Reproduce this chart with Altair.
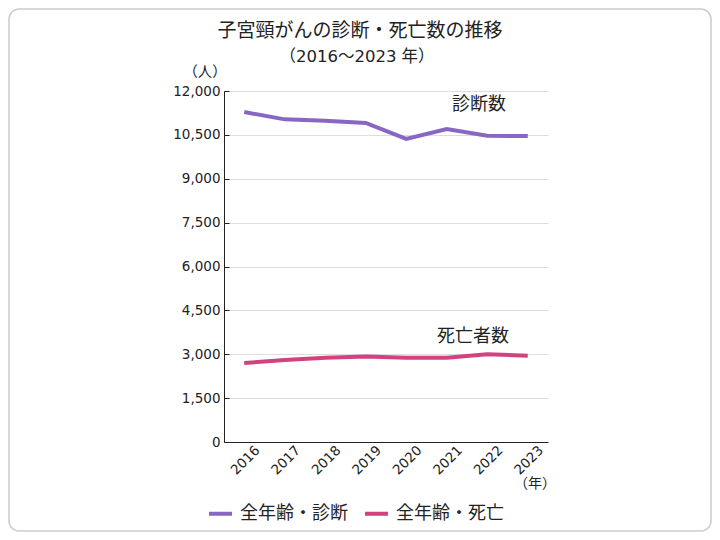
import pandas as pd
import altair as alt

# values
years = ["2016", "2017", "2018", "2019", "2020", "2021", "2022", "2023"]
diagnosis = [11280, 11030, 10980, 10910, 10360, 10700, 10470, 10460]
deaths = [2700, 2800, 2880, 2920, 2880, 2880, 3000, 2950]
series_names = ["全年齢・診断", "全年齢・死亡"]
series_colors = ["#8866C4", "#D1427F"]
y_ticks = [0, 1500, 3000, 4500, 6000, 7500, 9000, 10500, 12000]

FONT = "DejaVu Sans, Noto Sans CJK JP"
JP = "Noto Sans CJK JP"
W, H = 324, 351
PAD = {"left": 216, "top": 83, "right": 704 - 216 - W, "bottom": 524 - 83 - H}

records = []
for name, vals in zip(series_names, [diagnosis, deaths]):
    for yr, v in zip(years, vals):
        records.append({"Year": yr, "Count": v, "Series": name})
df = pd.DataFrame.from_records(records)

x_enc = alt.X(
    "Year:O",
    sort=years,
    scale=alt.Scale(type="point", padding=0.5),
    axis=alt.Axis(
        title=None, labelAngle=315, ticks=False, domainColor="#222",
        labelFont=FONT, labelFontSize=13.5, labelColor="#222", labelPadding=1,
        labelOffset=8, grid=False,
    ),
)
y_scale = alt.Scale(domain=[0, 12000], nice=False)

lines = (
    alt.Chart(df)
    .mark_line(strokeWidth=4)
    .encode(
        x=x_enc,
        y=alt.Y(
            "Count:Q",
            scale=y_scale,
            axis=alt.Axis(
                title=None, values=y_ticks, ticks=False,
                labelExpr="format(datum.value, ',d')",
                domainColor="#222", gridColor="#dddddd", labelFont=FONT,
                labelFontSize=13.5, labelColor="#222", labelPadding=4,
            ),
        ),
        color=alt.Color(
            "Series:N",
            sort=series_names,
            scale=alt.Scale(domain=series_names, range=series_colors),
            legend=alt.Legend(
                title=None, orient="none", direction="horizontal",
                legendX=-17, legendY=409, padding=0,
                symbolType="stroke", symbolSize=529, symbolStrokeWidth=4,
                labelFont=JP, labelFontSize=18, labelColor="#222",
                labelOffset=6, columnPadding=9,
            ),
        ),
    )
)

# second y axis only for the short inward ticks on the left edge
inner_ticks = (
    alt.Chart(df)
    .mark_line(opacity=0)
    .encode(
        x=x_enc,
        y=alt.Y(
            "Count:Q",
            scale=y_scale,
            axis=alt.Axis(
                orient="right", offset=-W, title=None, values=y_ticks,
                labels=False, domain=False, grid=False, tickSize=5,
                tickColor="#222",
            ),
        ),
    )
)


def label(text, x, y, size, font=JP):
    return (
        alt.Chart(pd.DataFrame({"t": [text]}))
        .mark_text(font=font, fontSize=size, color="#222", baseline="middle", align="center")
        .encode(text="t:N", x=alt.value(x), y=alt.value(y))
    )


frame = (
    alt.Chart(pd.DataFrame({"a": [0]}))
    .mark_rect(fillOpacity=0, stroke="#cccccc", strokeWidth=1.5, cornerRadius=10)
    .encode(x=alt.value(-215), x2=alt.value(487), y=alt.value(-82), y2=alt.value(440))
)

chart = (
    alt.layer(
        frame,
        lines,
        inner_ticks,
        label("子宮頸がんの診断・死亡数の推移", 136, -60, 19),
        label("（2016～2023 年）", 133, -34, 16.5, FONT),
        label("（人）", -19, -18, 14.5),
        label("（年）", 311, 393, 14),
        label("診断数", 255, 14, 18),
        label("死亡者数", 249, 246, 18),
    )
    .resolve_axis(y="independent")
    .properties(width=W, height=H, padding=PAD, autosize=alt.AutoSizeParams(type="none"))
    .configure_view(stroke=None)
)

chart.save("out.html", embed_options={"renderer": "svg", "actions": False})
